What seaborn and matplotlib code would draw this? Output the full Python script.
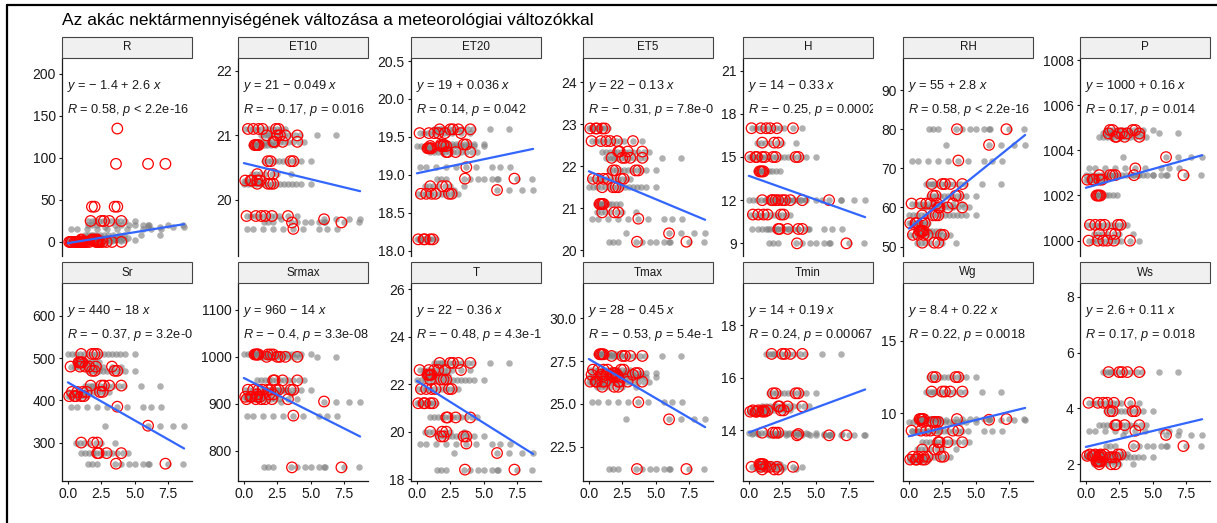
import matplotlib
matplotlib.use("Agg")
import numpy as np
import pandas as pd
import matplotlib.pyplot as plt
import seaborn as sns
from matplotlib.patches import Rectangle
from matplotlib.lines import Line2D

sns.set_style("white")
plt.rcParams['font.family'] = ['Liberation Sans', 'DejaVu Sans']
plt.rcParams['mathtext.fontset'] = 'custom'
plt.rcParams['mathtext.rm'] = 'Liberation Sans'
plt.rcParams['mathtext.it'] = 'Liberation Sans:italic'

# nectar amount of the samples, grouped by sampling day (grey = all, red = marked)
day_x = [
    [0.0, 0.15, 0.3, 0.5, 0.6, 0.8, 1.0, 1.2, 1.4],
    [0.5, 0.7, 0.8, 0.9, 1.0, 1.1, 1.3, 1.5, 1.7, 2.0, 2.3],
    [0.6, 0.9, 1.2, 1.6, 2.1, 2.5, 3.5],
    [1.3, 1.5, 1.7, 1.9, 2.1, 2.4, 2.7, 3.0, 3.4, 3.8, 4.2, 5.5, 6.9],
    [1.5, 1.8, 2.0, 2.3, 2.6, 2.9, 3.2, 3.6, 3.9, 4.3, 5.0],
    [1.0, 1.3, 1.6, 1.9, 2.1, 2.4, 2.7, 3.0, 3.3, 3.7, 4.1, 4.5],
    [0.0, 0.3, 0.6, 0.9, 1.2, 1.5, 1.8, 2.1, 2.4, 2.7, 3.0, 3.3, 3.6, 3.9, 4.3, 5.0],
    [0.2, 0.7, 1.4, 2.2, 2.9, 3.7, 4.4, 5.6, 6.2, 7.0],
    [1.5, 1.8, 2.2, 3.5, 4.0, 4.6, 5.0, 5.6, 6.0, 6.1, 7.5, 8.6],
    [2.8, 6.0, 6.9, 7.9, 8.7],
    [0.1, 0.4, 0.7, 1.0, 1.3, 1.6, 1.9, 2.2, 2.5, 2.8, 3.1],
    [0.2, 0.5, 0.8, 1.1, 1.4, 1.7, 2.0, 2.3, 2.6, 3.3, 4.0],
]
day_x_red = [
    [0.1, 0.5, 0.6, 1.0, 1.2],
    [0.8, 0.9, 1.0, 1.1],
    [1.0, 1.9, 2.2],
    [1.7, 2.5, 2.7, 3.1, 4.0],
    [1.8, 2.0, 3.5, 3.7],
    [2.2, 2.3, 2.9, 4.0],
    [1.0, 1.8, 2.0, 2.2],
    [3.7],
    [3.6, 7.3],
    [6.0],
    [0.3, 0.7, 1.1, 1.4, 2.4, 2.6],
    [0.2, 0.9, 1.3, 1.6, 2.1, 3.3],
]

# daily value of each meteorological variable
R_y = [0, 0.5, 3, 8, 25, 5, 2, 15, 20, 18, 0, 1]
R_red_y = [0, 0, 2, 25, 42, 0, 3, 135, 93, 93, 0, 0]
ET10_y = [20.3, 20.85, 20.4, 21.0, 20.6, 20.9, 20.25, 19.55, 19.65, 19.7, 21.1, 19.75]
ET20_y = [18.15, 19.35, 18.85, 19.6, 19.4, 19.3, 19.38, 19.1, 18.95, 18.8, 18.75, 19.55]
ET5_y = [22.9, 21.1, 20.9, 22.2, 21.9, 22.35, 21.5, 20.75, 20.2, 20.4, 21.7, 22.6]
H_y = [15, 14, 16, 12, 15, 10, 12, 10, 9, 12, 11, 17]
RH_y = [56, 54, 51, 66, 63, 60, 58, 72, 80, 76, 53, 61]
P_y = [1002.7, 1002.0, 1000.3, 1004.75, 1004.9, 1004.6, 1002.9, 1003.2, 1002.9, 1003.7, 1000.7, 1000.0]
Sr_y = [410, 490, 300, 435, 470, 275, 510, 385, 250, 340, 420, 480]
Srmax_y = [915, 1005, 920, 1000, 930, 950, 1005, 875, 765, 905, 930, 910]
T_y = [21.2, 22.4, 20.0, 22.9, 19.8, 20.6, 22.2, 19.5, 18.4, 19.1, 21.8, 22.6]
Tmax_y = [26.3, 27.9, 26.0, 27.8, 26.8, 26.3, 26.6, 25.1, 21.2, 24.1, 27.0, 26.7]
Tmin_y = [14.7, 12.7, 12.5, 16.9, 15.4, 14.9, 13.9, 13.85, 13.8, 13.8, 14.75, 12.6]
Wg_y = [6.8, 9.6, 7.5, 11.5, 12.5, 8.0, 9.4, 8.8, 9.6, 9.55, 7.0, 8.8]
Ws_y = [2.3, 2.1, 2.0, 5.3, 3.9, 3.4, 2.25, 3.2, 2.65, 3.05, 2.35, 4.2]

panels = ["R", "ET10", "ET20", "ET5", "H", "RH", "P",
          "Sr", "Srmax", "T", "Tmax", "Tmin", "Wg", "Ws"]
grey_levels = [R_y, ET10_y, ET20_y, ET5_y, H_y, RH_y, P_y,
               Sr_y, Srmax_y, T_y, Tmax_y, Tmin_y, Wg_y, Ws_y]
red_levels = [R_red_y] + grey_levels[1:]

intercepts = [-1.4, 20.57, 19.02, 21.88, 13.69, 54.6, 1002.34,
              442.6, 955, 22.14, 27.62, 13.91, 8.41, 2.62]
slopes = [2.6, -0.05, 0.037, -0.133, -0.33, 2.75, 0.166,
          -18.0, -14.3, -0.354, -0.457, 0.188, 0.225, 0.114]

eq_labels = ["− 1.4 + 2.6", "21 − 0.049", "19 + 0.036", "22 − 0.13", "14 − 0.33", "55 + 2.8", "1000 + 0.16",
             "440 − 18", "960 − 14", "22 − 0.36", "28 − 0.45", "14 + 0.19", "8.4 + 0.22", "2.6 + 0.11"]
r_labels = ["0.58", "− 0.17", "0.14", "− 0.31", "− 0.25", "0.58", "0.17",
            "− 0.37", "− 0.4", "− 0.48", "− 0.53", "0.24", "0.22", "0.17"]
p_labels = ["< 2.2e-16", "= 0.016", "= 0.042", "= 7.8e-06", "= 0.00023", "< 2.2e-16", "= 0.014",
            "= 3.2e-08", "= 3.3e-08", "= 4.3e-13", "= 5.4e-16", "= 0.00067", "= 0.0018", "= 0.018"]

ylims = [(-16.7, 219), (19.13, 22.2), (17.93, 20.54), (19.86, 24.58), (8.12, 21.88), (47.6, 98.2), (999.32, 1008.09),
         (209, 678), (736, 1157), (17.92, 26.27), (20.5, 32.06), (12.06, 19.6), (5.32, 19.0), (1.40, 8.49)]
yticks = [[0, 50, 100, 150, 200], [20, 21, 22], [18, 18.5, 19, 19.5, 20, 20.5], [20, 21, 22, 23, 24],
          [9, 12, 15, 18, 21], [50, 60, 70, 80, 90], [1000, 1002, 1004, 1006, 1008],
          [300, 400, 500, 600], [800, 900, 1000, 1100], [18, 20, 22, 24, 26], [22.5, 25, 27.5, 30],
          [14, 16, 18], [10, 15], [2, 4, 6, 8]]
ytick_labels = [None, None, ["18.0", "18.5", "19.0", "19.5", "20.0", "20.5"], None, None, None, None,
                None, None, None, ["22.5", "25.0", "27.5", "30.0"], None, None, None]

# build long tables
rows, red_rows = [], []
for name, gl, rl in zip(panels, grey_levels, red_levels):
    for d, xs in enumerate(day_x):
        for x in xs:
            rows.append((name, x, gl[d]))
    for d, xs in enumerate(day_x_red):
        for x in xs:
            red_rows.append((name, x, rl[d]))
grey_df = pd.DataFrame(rows, columns=["var", "nectar", "value"])
red_df = pd.DataFrame(red_rows, columns=["var", "nectar", "value"])

W, H = 1217, 523
fig = plt.figure(figsize=(W / 100, H / 100), dpi=100)

lefts = [62, 238, 411, 583, 743, 903, 1080]
row_top = [58, 283]
pw, ph, sh = 130, 198, 21
ink = "#1a1a1a"

fig.text(62 / W, 1 - 24.5 / H, "Az akác nektármennyiségének változása a meteorológiai változókkal",
         fontsize=12.5, color="black", va="baseline", ha="left")

x_line = np.array([grey_df["nectar"].min(), grey_df["nectar"].max()])

for i, name in enumerate(panels):
    r, c = divmod(i, 7)
    l, t = lefts[c], row_top[r]
    ax = fig.add_axes([l / W, 1 - (t + ph) / H, pw / W, ph / H])
    sub = grey_df[grey_df["var"] == name]
    sub_r = red_df[red_df["var"] == name]
    sns.scatterplot(data=sub, x="nectar", y="value", ax=ax, color="#808080", alpha=0.62,
                    s=22, linewidth=0, legend=False, zorder=2)
    sns.scatterplot(data=sub_r, x="nectar", y="value", ax=ax, facecolor="none", edgecolor="red",
                    s=58, linewidth=0.9, legend=False, zorder=3)
    ax.plot(x_line, intercepts[i] + slopes[i] * x_line, color="#3366FF", lw=1.6, zorder=4)

    ax.set_xlim(-0.44, 9.29)
    ax.set_ylim(*ylims[i])
    ax.set_yticks(yticks[i])
    if ytick_labels[i] is not None:
        ax.set_yticklabels(ytick_labels[i])
    ax.set_xticks([0, 2.5, 5, 7.5])
    ax.set_xticklabels(["0.0", "2.5", "5.0", "7.5"])
    ax.set_xlabel("")
    ax.set_ylabel("")
    for s in ["top", "right"]:
        ax.spines[s].set_visible(False)
    ax.spines["left"].set_color(ink)
    ax.spines["left"].set_linewidth(0.9)
    ax.spines["bottom"].set_color(ink)
    ax.spines["bottom"].set_linewidth(0.9)
    ax.tick_params(axis="both", length=2.5, width=0.8, color=ink, labelsize=10,
                   labelcolor=ink, pad=2, left=True, bottom=True)
    if r == 0:
        ax.spines["bottom"].set_visible(False)
        ax.tick_params(axis="x", bottom=False, labelbottom=False)

    ax.text(0.04, 0.859, "$y$ = " + eq_labels[i] + " $x$", transform=ax.transAxes,
            fontsize=9.2, color=ink, va="center", ha="left", clip_on=True, zorder=5)
    ax.text(0.04, 0.737, "$R$ = " + r_labels[i] + ", $p$ " + p_labels[i], transform=ax.transAxes,
            fontsize=9.2, color=ink, va="center", ha="left", clip_on=True, zorder=5)

    # facet strip
    fig.patches.append(Rectangle((l / W, 1 - t / H), pw / W, sh / H, transform=fig.transFigure,
                                 facecolor="#F0F0F0", edgecolor="#444444", linewidth=0.8))
    fig.text((l + pw / 2) / W, 1 - (t - sh / 2) / H, name, fontsize=8.4, color=ink,
             ha="center", va="center")

# screenshot frame
fig.lines.append(Line2D([7 / W, 1], [1 - 5 / H, 1 - 5 / H], transform=fig.transFigure, color="black", lw=1.6))
fig.lines.append(Line2D([7 / W, 7 / W], [0, 1 - 5 / H], transform=fig.transFigure, color="black", lw=1.6))

fig.savefig("out.png", dpi=100)
